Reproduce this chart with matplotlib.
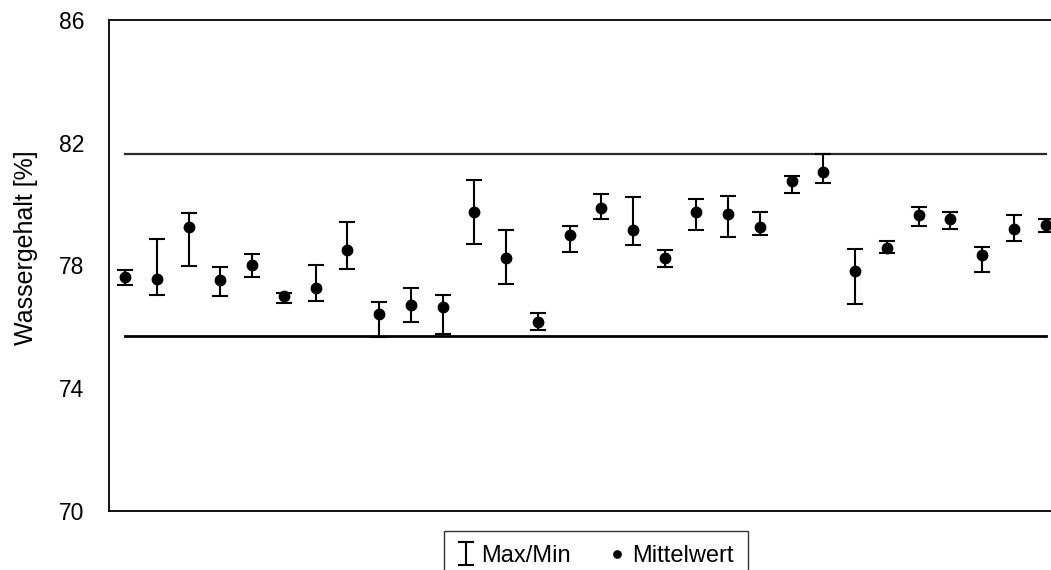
import matplotlib
matplotlib.use("Agg")
import matplotlib.pyplot as plt
import numpy as np

plt.rcParams["font.family"] = ["Liberation Sans", "DejaVu Sans"]

# Sample index and water content statistics (%)
samples = list(range(1, 31))
mean_vals = [77.61, 77.57, 79.25, 77.52, 78.01, 77.01, 77.27, 78.50, 76.41, 76.70,
             76.63, 79.73, 78.25, 76.14, 79.00, 79.86, 79.14, 78.25, 79.75, 79.68,
             79.24, 80.76, 81.05, 77.81, 78.58, 79.63, 79.50, 78.34, 79.19, 79.31]
max_vals = [77.86, 78.86, 79.72, 77.96, 78.36, 77.10, 78.01, 79.41, 76.82, 77.27,
            77.04, 80.78, 79.16, 76.46, 79.28, 80.32, 80.23, 78.49, 80.17, 80.27,
            79.75, 80.92, 81.62, 78.54, 78.78, 79.91, 79.75, 78.61, 79.65, 79.51]
min_vals = [77.37, 77.04, 77.98, 77.01, 77.62, 76.78, 76.83, 77.87, 75.67, 76.14,
            75.76, 78.70, 77.40, 75.90, 78.43, 79.51, 78.65, 77.94, 79.14, 78.92,
            79.00, 80.36, 80.68, 76.75, 78.39, 79.28, 79.19, 77.79, 78.78, 79.08]

# Upper and lower limit lines
upper_limit = 81.63
lower_limit = 75.71

y_ticks = [70, 74, 78, 82, 86]

W, H = 1051, 570
fig = plt.figure(figsize=(W / 100, H / 100), dpi=100)
left_px, right_px, top_px, bottom_px = 109.3, 1061.5, 20.0, 510.7
ax = fig.add_axes([left_px / W, 1 - bottom_px / H,
                   (right_px - left_px) / W, (bottom_px - top_px) / H])

x = np.array(samples)
mean = np.array(mean_vals)
lower_err = mean - np.array(min_vals)
upper_err = np.array(max_vals) - mean

ax.plot([samples[0], samples[-1]], [upper_limit, upper_limit],
        color="#2a2a2a", lw=1.6, zorder=1)
ax.plot([samples[0], samples[-1]], [lower_limit, lower_limit],
        color="black", lw=2.0, zorder=1)

eb = ax.errorbar(x, mean, yerr=[lower_err, upper_err], fmt="none",
                 ecolor="black", elinewidth=1.5, capsize=5.5, capthick=1.5,
                 label="Max/Min", zorder=2)
pts, = ax.plot(x, mean, "o", color="black", markersize=7.5,
               label="Mittelwert", zorder=3)

ax.set_xlim(0.5, 30.5)
ax.set_ylim(70, 86)
ax.set_yticks(y_ticks)
ax.set_yticklabels([str(t) for t in y_ticks], fontsize=16.5)
ax.tick_params(axis="y", length=0, pad=18)
ax.set_xticks([])
for side in ["left", "top", "bottom"]:
    ax.spines[side].set_linewidth(1.3)
    ax.spines[side].set_color("black")
ax.spines["right"].set_visible(False)

ax.set_ylabel("Wassergehalt [%]", fontsize=18)
ax.yaxis.set_label_coords(-0.0745, 0.537)

leg = fig.legend(handles=[eb, pts], labels=["Max/Min", "Mittelwert"],
                 loc="upper center", bbox_to_anchor=(596 / W, 1 - 530.7 / H),
                 borderaxespad=0.0,
                 ncol=2, fontsize=17, frameon=True, fancybox=False,
                 edgecolor="black", handlelength=0.7, handletextpad=0.3,
                 columnspacing=1.6, borderpad=0.6, markerscale=0.7)
leg.get_frame().set_linewidth(1.0)

fig.savefig("out.png", dpi=100)
